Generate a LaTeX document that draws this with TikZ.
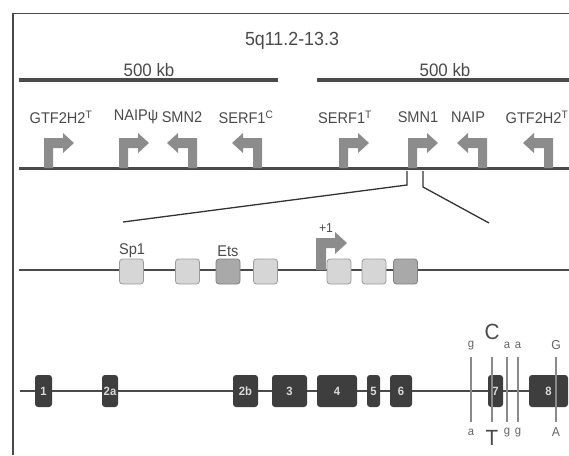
\documentclass[tikz,border=0pt]{standalone}
\usepackage{fontspec}
\setmainfont{Liberation Sans}[FakeStretch=0.94]
\definecolor{lineg}{HTML}{4A4A4A}
\definecolor{bentg}{HTML}{8C8C8C}
\definecolor{boxl}{HTML}{D6D6D6}
\definecolor{boxd}{HTML}{A9A9A9}
\definecolor{boxe}{HTML}{9A9A9A}
\definecolor{exon}{HTML}{3E3E3E}
\definecolor{txt}{HTML}{4A4A4A}
\definecolor{snp}{HTML}{8A8A8A}
\tikzset{
  lbl/.style={font=\fontsize{15.5}{15.5}\selectfont, text=txt, inner sep=0pt},
  kb/.style={font=\fontsize{18}{18}\selectfont, text=txt, inner sep=0pt},
  bent/.style={fill=bentg},
  chrom/.style={draw=lineg, line width=3pt},
  promline/.style={draw=lineg, line width=2.6pt},
  geneline/.style={draw=lineg, line width=2.2pt},
  pbox/.style={draw=boxe, fill=boxl, line width=0.8pt, rounded corners=3pt, minimum width=24pt, minimum height=25pt, inner sep=0pt},
  pboxd/.style={pbox, fill=boxd, draw=black!50},
  exonbox/.style={fill=exon, rounded corners=3pt, minimum height=32pt, inner sep=0pt, text=white!85!black, font=\fontsize{12}{12}\selectfont\bfseries},
  snpline/.style={draw=snp, line width=1.1pt},
  snps/.style={font=\fontsize{12}{12}\selectfont, text=txt!85, inner sep=0pt},
  snpb/.style={font=\fontsize{22}{22}\selectfont, text=txt, inner sep=0pt},
  zoomline/.style={draw=black!80, line width=1.3pt},
}
\newcommand\rbent[1]{\fill[bent,shift={(#1,0)}] (0,168)--(0,138)--(19,138)--(19,133)--(30,143)--(19,153)--(19,148)--(9,148)--(9,168)--cycle;}
\newcommand\lbent[1]{\fill[bent,shift={(#1,0)},xscale=-1] (0,168)--(0,138)--(19,138)--(19,133)--(30,143)--(19,153)--(19,148)--(9,148)--(9,168)--cycle;}
\begin{document}
\begin{tikzpicture}[x=1pt,y=-1pt]
\useasboundingbox (0,0) rectangle (569,455);
% frame
\draw[draw=lineg, line width=1.5pt] (13,455) -- (13,13.5) -- (569,13.5);
% title and scale bars
\node[kb, font=\fontsize{19}{19}\selectfont] (title) at (292,41) {5q11.2-13.3};
\draw[chrom, line width=3.5pt] (19,80) -- (278,80);
\draw[chrom, line width=3.5pt] (317,80) -- (569,80);
\node[kb] (kbL) at (149,70) {500 kb};
\node[kb] (kbR) at (445,70) {500 kb};
% chromosome line with genes
\draw[chrom] (19,168) -- (569,168);
\rbent{44}
\rbent{119}
\lbent{197}
\lbent{262}
\rbent{339}
\rbent{408}
\lbent{487}
\lbent{553}
\node[lbl] (g1) at (61,117) {GTF2H2\textsuperscript{T}};
\node[lbl] (g2) at (136,117) {NAIPψ};
\node[lbl] (g3) at (182,117) {SMN2};
\node[lbl] (g4) at (246,117) {SERF1\textsuperscript{C}};
\node[lbl] (g5) at (345,117) {SERF1\textsuperscript{T}};
\node[lbl] (g6) at (418,117) {SMN1};
\node[lbl] (g7) at (468,117) {NAIP};
\node[lbl] (g8) at (537,117) {GTF2H2\textsuperscript{T}};
% zoom lines
\coordinate (zl1) at (407,171);
\coordinate (zl2) at (407,185);
\coordinate (zl3) at (123,222);
\coordinate (zr1) at (423,171);
\coordinate (zr2) at (423,187);
\coordinate (zr3) at (489,223);
\draw[zoomline] (zl1) -- (zl2) -- (zl3);
\draw[zoomline] (zr1) -- (zr2) -- (zr3);
% promoter
\draw[promline] (19,270) -- (569,270);
\fill[bent] (316,270)--(316,238)--(335,238)--(335,232)--(347,243)--(335,254)--(335,248)--(326,248)--(326,270)--cycle;
\node[lbl, font=\fontsize{13}{13}\selectfont] (plus1) at (326,228) {+1};
\node[pbox] (b1) at (131.5,271.5) {};
\node[pbox] (b2) at (187.5,271.5) {};
\node[pboxd] (b3) at (228,271.5) {};
\node[pbox] (b4) at (265.5,271.5) {};
\node[pbox] (b5) at (339,271.5) {};
\node[pbox] (b6) at (374,271.5) {};
\node[pboxd] (b7) at (405.5,271.5) {};
\node[lbl] (sp1) at (132,251) {Sp1};
\node[lbl] (ets) at (228,251) {Ets};
% gene structure
\draw[geneline] (20,391) -- (540,391);
\node[exonbox, minimum width=17pt] (e1) at (43.5,391) {1};
\node[exonbox, minimum width=16pt] (e2a) at (110,391) {2a};
\node[exonbox, minimum width=25pt] (e2b) at (245.5,391) {2b};
\node[exonbox, minimum width=35pt] (e3) at (289.5,391) {3};
\node[exonbox, minimum width=40pt] (e4) at (337,391) {4};
\node[exonbox, minimum width=13pt] (e5) at (373.5,391) {5};
\node[exonbox, minimum width=22pt] (e6) at (401,391) {6};
\node[exonbox, minimum width=15pt] (e7) at (495.5,391) {7};
\node[exonbox, minimum width=39pt] (e8) at (548.5,391) {8};
% SNP lines
\foreach \x/\n in {471/s1, 492/s2, 507/s3, 518/s4, 556/s5} {
  \coordinate (\n t) at (\x,357);
  \coordinate (\n b) at (\x,422);
  \draw[snpline] (\n t) -- (\n b);
}
\node[snps] (u1) at (471,346) {g};
\node[snpb] (u2) at (492,332) {C};
\node[snps] (u3) at (507,345) {a};
\node[snps] (u4) at (518,345) {a};
\node[snps, font=\fontsize{13}{13}\selectfont] (u5) at (556,345) {G};
\node[snps] (d1) at (471,432) {a};
\node[snpb] (d2) at (492,438) {T};
\node[snps] (d3) at (507,433) {g};
\node[snps] (d4) at (518,433) {g};
\node[snps, font=\fontsize{13}{13}\selectfont] (d5) at (556,432) {A};
\end{tikzpicture}
\end{document}
